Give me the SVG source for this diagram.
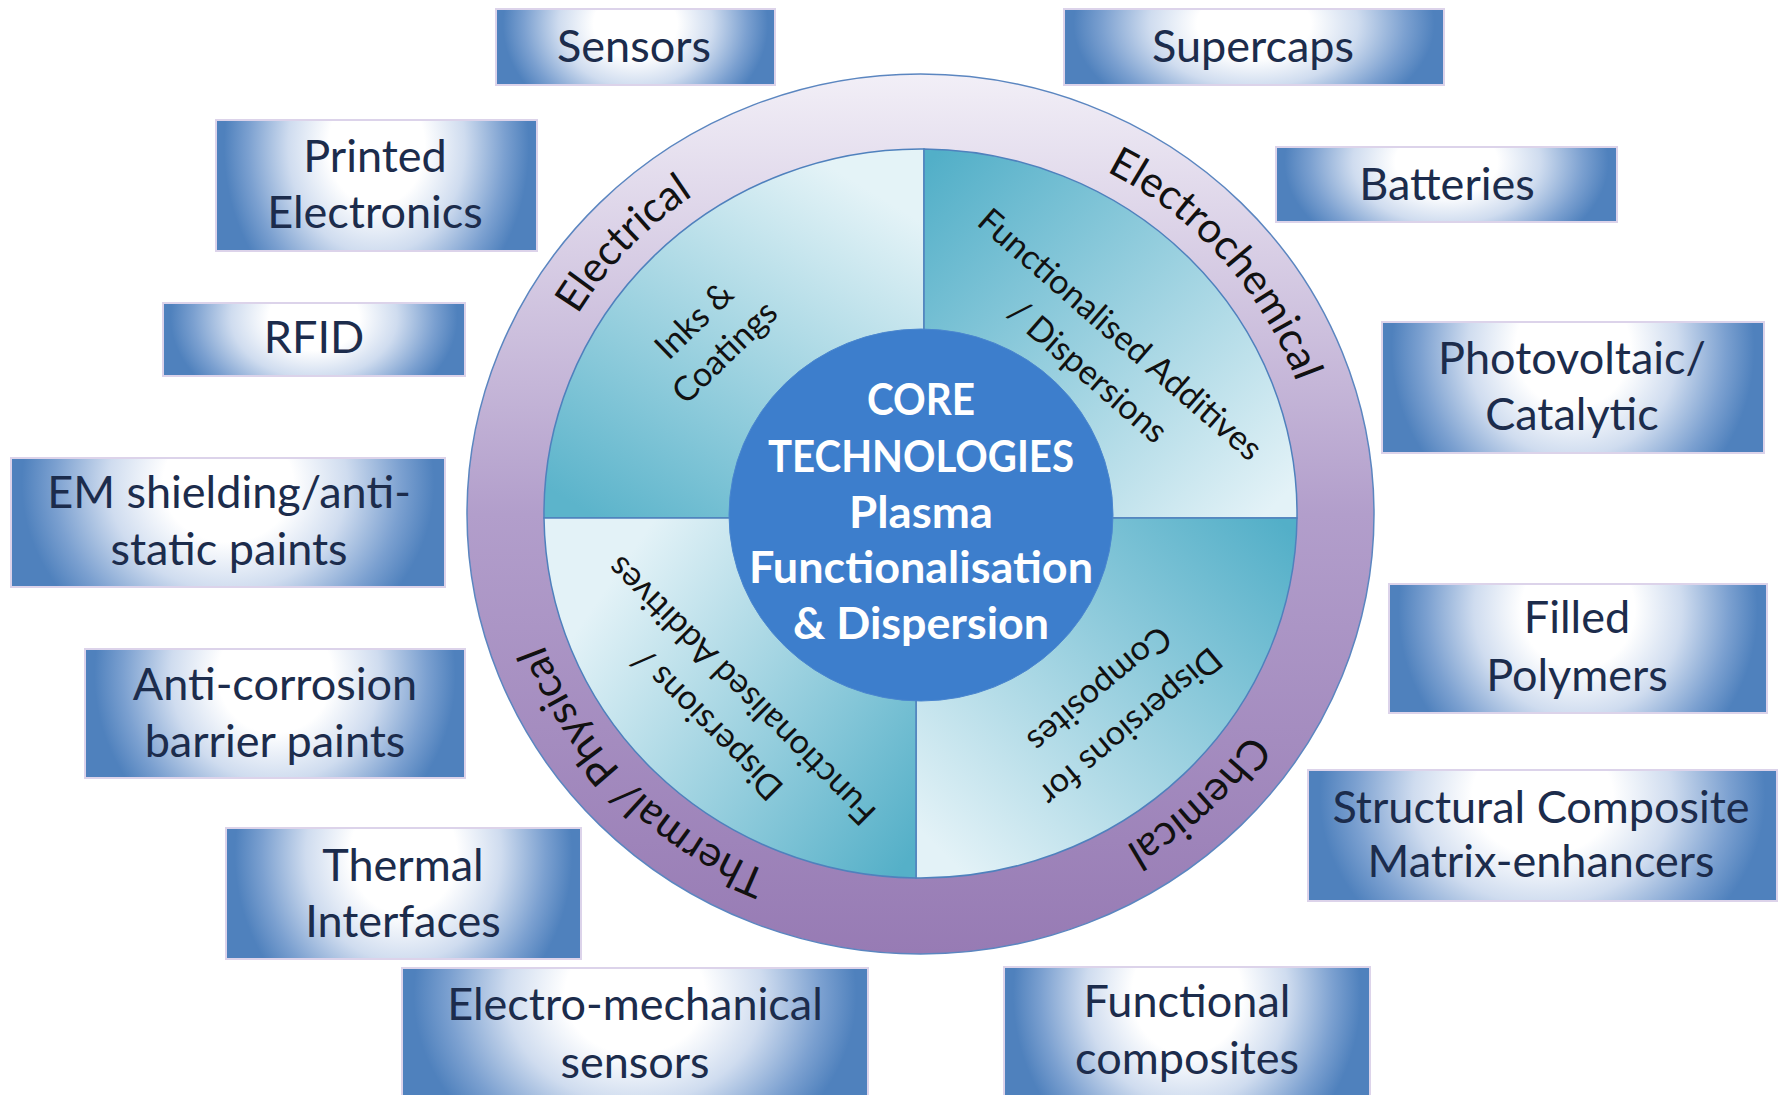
<svg xmlns="http://www.w3.org/2000/svg" width="1779" height="1095" viewBox="0 0 1779 1095">
<defs>
<style>
.box{stroke:#dcd3ea;stroke-width:2;fill:url(#boxGrad);}
.bt{font-family:Lato,"Liberation Sans",sans-serif;font-size:45px;fill:#1c2c4c;text-anchor:middle;}
.qt{font-family:Lato,"Liberation Sans",sans-serif;font-size:34px;fill:#111;text-anchor:middle;}
.rt{font-family:Lato,"Liberation Sans",sans-serif;font-size:42px;fill:#111;text-anchor:middle;}
.ct{font-family:Lato,"Liberation Sans",sans-serif;font-size:44px;font-weight:bold;fill:#fff;text-anchor:middle;}
.quad{stroke:#4f81bd;stroke-width:1.5;}
</style>
<radialGradient id="boxGrad" cx="0.5" cy="0.2" r="0.5" gradientTransform="translate(0.5 0.2) scale(1 3) translate(-0.5 -0.2)">
<stop offset="0" stop-color="#ffffff"/>
<stop offset="0.3" stop-color="#ffffff"/>
<stop offset="0.55" stop-color="#cfdcef"/>
<stop offset="0.8" stop-color="#7ba0d0"/>
<stop offset="0.95" stop-color="#4f81bd"/>
</radialGradient>
<linearGradient id="ringGrad" gradientUnits="userSpaceOnUse" x1="0" y1="74" x2="0" y2="954">
<stop offset="0" stop-color="#f2eff7"/>
<stop offset="0.5" stop-color="#b29ecb"/>
<stop offset="1" stop-color="#977bb4"/>
</linearGradient>
<linearGradient id="gTL" gradientUnits="userSpaceOnUse" x1="820" y1="160" x2="600" y2="520">
<stop offset="0" stop-color="#e4f3f7"/>
<stop offset="1" stop-color="#5cb4cb"/>
</linearGradient>
<linearGradient id="gTR" gradientUnits="userSpaceOnUse" x1="930" y1="160" x2="1280" y2="500">
<stop offset="0" stop-color="#52afc8"/>
<stop offset="1" stop-color="#e3f2f7"/>
</linearGradient>
<linearGradient id="gBR" gradientUnits="userSpaceOnUse" x1="1290" y1="530" x2="960" y2="870">
<stop offset="0" stop-color="#53afc8"/>
<stop offset="1" stop-color="#e3f2f7"/>
</linearGradient>
<linearGradient id="gBL" gradientUnits="userSpaceOnUse" x1="570" y1="640" x2="900" y2="870">
<stop offset="0" stop-color="#e3f2f7"/>
<stop offset="1" stop-color="#55b0c8"/>
</linearGradient>
<path id="arcElectrical" d="M566.0,693.3 A400,387 0 0 1 1072.9,156.2"/>
<path id="arcElectrochemical" d="M781.1,151.3 A400,387 0 0 1 1268.3,705.1"/>
<path id="arcChemical" d="M1286.2,357.2 A400,387 0 0 1 744.5,861.5"/>
<path id="arcThermal" d="M1076.8,870.2 A400,387 0 0 1 564.1,338.3"/>
</defs>
<rect width="1779" height="1095" fill="#ffffff"/>

<g id="connectors"></g>

<g id="ring">
<ellipse cx="920.5" cy="514" rx="453.5" ry="440" fill="url(#ringGrad)" stroke="#5b86c0" stroke-width="1.5"/>
<text class="rt"><textPath href="#arcElectrical" startOffset="50%">Electrical</textPath></text>
<text class="rt"><textPath href="#arcElectrochemical" startOffset="50%">Electrochemical</textPath></text>
<text class="rt"><textPath href="#arcChemical" startOffset="50%">Chemical</textPath></text>
<text class="rt"><textPath href="#arcThermal" startOffset="50%">Thermal/ Physical</textPath></text>
</g>

<g id="quad-inks">
<path class="quad" fill="url(#gTL)" d="M924,518 L544,518 A376.5,364.5 0 0 1 924,149 Z"/>
<g transform="translate(709 336) rotate(-44)">
<text class="qt" x="0" y="-10">Inks &amp;</text>
<text class="qt" x="0" y="34">Coatings</text>
</g>
</g>

<g id="quad-additives">
<path class="quad" fill="url(#gTR)" d="M924,518 L924,149 A376.5,364.5 0 0 1 1297,518 Z"/>
<g transform="translate(1104 353) rotate(41)">
<text class="qt" x="0" y="-13">Functionalised Additives</text>
<text class="qt" x="0" y="36">/ Dispersions</text>
</g>
</g>

<g id="quad-composites">
<path class="quad" fill="url(#gBR)" d="M916,518 L1297,518 A376.5,364.5 0 0 1 916,878 Z"/>
<g transform="translate(1115 708) rotate(140)">
<text class="qt" x="0" y="-13">Dispersions for</text>
<text class="qt" x="0" y="36">Composites</text>
</g>
</g>

<g id="quad-dispersions">
<path class="quad" fill="url(#gBL)" d="M916,518 L916,878 A376.5,364.5 0 0 1 544,518 Z"/>
<g transform="translate(724 708) rotate(-135)">
<text class="qt" x="0" y="-12">Dispersions /</text>
<text class="qt" x="0" y="36">Functionalised Additives</text>
</g>
</g>

<g id="core">
<ellipse cx="921" cy="515" rx="192" ry="186" fill="#3d7ecc" stroke="#4a86cf" stroke-width="1"/>
<text class="ct" x="921" y="415" textLength="108" lengthAdjust="spacingAndGlyphs">CORE</text>
<text class="ct" x="921" y="472" textLength="306" lengthAdjust="spacingAndGlyphs">TECHNOLOGIES</text>
<text class="ct" x="921" y="528" textLength="144" lengthAdjust="spacingAndGlyphs">Plasma</text>
<text class="ct" x="921" y="583" textLength="344" lengthAdjust="spacingAndGlyphs">Functionalisation</text>
<text class="ct" x="921" y="639" textLength="256" lengthAdjust="spacingAndGlyphs">&amp; Dispersion</text>
</g>

<g id="sensors"><rect class="box" x="496" y="9" width="279" height="76"/><text class="bt" x="634" y="62">Sensors</text></g>
<g id="supercaps"><rect class="box" x="1064" y="9" width="380" height="76"/><text class="bt" x="1253" y="62">Supercaps</text></g>
<g id="printed-electronics"><rect class="box" x="216" y="120" width="321" height="131"/><text class="bt" x="375" y="172">Printed</text><text class="bt" x="375" y="228">Electronics</text></g>
<g id="batteries"><rect class="box" x="1276" y="147" width="341" height="75"/><text class="bt" x="1447" y="200">Batteries</text></g>
<g id="rfid"><rect class="box" x="163" y="303" width="302" height="73"/><text class="bt" x="314" y="353">RFID</text></g>
<g id="photovoltaic"><rect class="box" x="1382" y="322" width="382" height="131"/><text class="bt" x="1572" y="374">Photovoltaic/</text><text class="bt" x="1572" y="430">Catalytic</text></g>
<g id="em-shielding"><rect class="box" x="11" y="458" width="434" height="129"/><text class="bt" x="229" y="508">EM shielding/anti-</text><text class="bt" x="229" y="565">static paints</text></g>
<g id="filled-polymers"><rect class="box" x="1389" y="584" width="378" height="129"/><text class="bt" x="1577" y="633">Filled</text><text class="bt" x="1577" y="691">Polymers</text></g>
<g id="anti-corrosion"><rect class="box" x="85" y="649" width="380" height="129"/><text class="bt" x="275" y="700">Anti-corrosion</text><text class="bt" x="275" y="757">barrier paints</text></g>
<g id="structural-composite"><rect class="box" x="1308" y="770" width="469" height="131"/><text class="bt" x="1541" y="823">Structural Composite</text><text class="bt" x="1541" y="877">Matrix-enhancers</text></g>
<g id="thermal-interfaces"><rect class="box" x="226" y="828" width="355" height="131"/><text class="bt" x="403" y="881">Thermal</text><text class="bt" x="403" y="937">Interfaces</text></g>
<g id="electro-mechanical"><rect class="box" x="402" y="968" width="466" height="132"/><text class="bt" x="635" y="1020">Electro-mechanical</text><text class="bt" x="635" y="1078">sensors</text></g>
<g id="functional-composites"><rect class="box" x="1004" y="967" width="366" height="133"/><text class="bt" x="1187" y="1017">Functional</text><text class="bt" x="1187" y="1074">composites</text></g>
</svg>
